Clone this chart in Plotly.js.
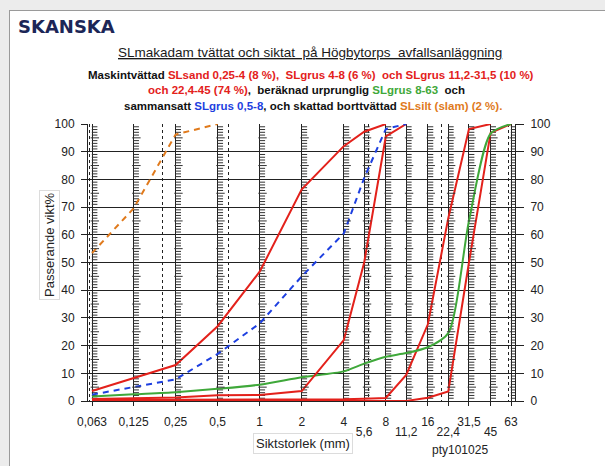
<!DOCTYPE html>
<html>
<head>
<meta charset="utf-8">
<script src="https://cdn.plot.ly/plotly-3.0.1.min.js"></script>
<style>
  html, body { margin:0; padding:0; background:#ececec; width:605px; height:466px; overflow:hidden; }
  #frame { position:absolute; left:9px; top:10px; width:620px; height:480px; background:#fff; border:1px solid #9a9a9a; }
  #chart { position:absolute; left:0; top:0; width:605px; height:466px; }
</style>
</head>
<body>
<div id="frame"></div>
<div id="chart"></div>
<script>
// ---- data ----
const sieveMain = [0.063, 0.125, 0.25, 0.5, 1, 2, 4, 8, 16, 31.5, 63];
const sieveMainText = ['0,063', '0,125', '0,25', '0,5', '1', '2', '4', '8', '16', '31,5', '63'];
const sieveLow = [5.6, 11.2, 22.4, 45];
const sieveLowText = ['5,6', '11,2', '22,4', '45'];
const sieveDotted = [0.06, 0.2, 0.6, 6, 20, 60];
const sizes = [0.063, 0.125, 0.25, 0.5, 1, 2, 4, 5.6, 8, 11.2, 16, 22.4, 31.5, 45, 63];

const slSilt      = [53.4, 69.5, 96.2, 100];                                   // 0.063..0.5
const slGrus0508  = [2.3, 5, 7.8, 17, 28, 45, 60.5, 80.5, 98.2, 100];          // 0.063..11.2
const slSand      = [3.6, 8.3, 13, 27, 46.7, 76.4, 92, 97.2, 100];             // 0.063..8
const slGrus48    = [0.7, 1, 1.3, 2.1, 2.2, 3.6, 22, 50, 95.5, 100];           // 0.063..11.2
const slGrus11    = [0.4, 0.4, 0.4, 0.5, 0.5, 0.5, 0.6, 0.8, 1.1, 9.4, 27.7, 66, 98.2, 100]; // ..45
const slGrus22    = [0, 0, 0, 0, 0, 0, 0, 0, 0, 0, 1.2, 3.4, 50, 96.8, 100];   // ..63
const slGrus863   = [1.6, 2.4, 3.2, 4.4, 5.9, 8.6, 10.7, 13.5, 16, 17.3, 19.4, 24.5, 65, 96.5, 100];

// ---- ruler tick decoration on each solid sieve line ----
const rulerLines = sizes;
const tx1 = [], ty1 = [], tx5 = [], ty5 = [];
const shift = Math.pow(10, 2.6 / 139.7);
rulerLines.forEach(function (s) {
  for (let v = 1; v < 100; v++) {
    if (v % 10 === 0) continue;
    if (v % 5 === 0) { tx5.push(s * shift * 1.004); ty5.push(v); }
    else { tx1.push(s * shift); ty1.push(v); }
  }
});

const RED = '#e3211b', GREEN = '#3fa83a', BLUE = '#1d3fe0', ORANGE = '#e07a1c';
const xs = (n) => sizes.slice(0, n);

const traces = [
  {x: tx1, y: ty1, mode: 'markers', marker: {symbol: 'line-ew', size: 4, line: {width: 1, color: '#333'}}, hoverinfo: 'skip', showlegend: false},
  {x: tx5, y: ty5, mode: 'markers', marker: {symbol: 'line-ew', size: 6, line: {width: 1, color: '#333'}}, hoverinfo: 'skip', showlegend: false, xaxis: 'x2', yaxis: 'y2'},
  {x: [1], y: [50], mode: 'markers', marker: {opacity: 0}, hoverinfo: 'skip', showlegend: false, xaxis: 'x3'},
  {x: xs(slGrus22.length), y: slGrus22, mode: 'lines', line: {color: RED, width: 2}},
  {x: xs(slGrus11.length), y: slGrus11, mode: 'lines', line: {color: RED, width: 2}},
  {x: xs(slGrus863.length), y: slGrus863, mode: 'lines', line: {color: GREEN, width: 2, shape: 'spline', smoothing: 0.7}},
  {x: xs(slGrus48.length), y: slGrus48, mode: 'lines', line: {color: RED, width: 2}},
  {x: xs(slGrus0508.length), y: slGrus0508, mode: 'lines', line: {color: BLUE, width: 2, dash: '6px,5px'}},
  {x: xs(slSand.length), y: slSand, mode: 'lines', line: {color: RED, width: 2}},
  {x: xs(slSilt.length), y: slSilt, mode: 'lines', line: {color: ORANGE, width: 2, dash: '6px,5px'}}
];

const L = 88, R = 515, T = 124, B = 401;
const r0 = Math.log10(0.063) - 4 / 139.7, r1 = Math.log10(63) + 4 / 139.7;
const W = R - L, H = B - T;
const px = (x) => (x - L) / W;
const py = (y) => (B - y) / H;

const FONT = 'Liberation Sans, Arial, sans-serif';
const NARROW = 'Liberation Sans Narrow, Arial Narrow, Liberation Sans, sans-serif';
const tickFont = {family: FONT, size: 12, color: '#222'};

const xBase = {type: 'log', range: [r0, r1], tickmode: 'array', showgrid: true, gridcolor: '#222', gridwidth: 1,
  zeroline: false, ticks: 'outside', ticklen: 4, tickcolor: '#222', tickfont: tickFont, fixedrange: true};

const red = (t) => '<span style="color:' + RED + '">' + t + '</span>';
const grn = (t) => '<span style="color:' + GREEN + '">' + t + '</span>';
const blu = (t) => '<span style="color:' + BLUE + '">' + t + '</span>';
const org = (t) => '<span style="color:' + ORANGE + '">' + t + '</span>';

const layout = {
  width: 605, height: 466,
  margin: {l: L, r: 605 - R, t: T, b: 466 - B},
  paper_bgcolor: 'rgba(0,0,0,0)', plot_bgcolor: 'rgba(0,0,0,0)',
  showlegend: false,
  xaxis: Object.assign({}, xBase, {tickvals: sieveMain, ticktext: sieveMainText, ticklabelstandoff: 6,
    showline: true, linecolor: '#222'}),
  xaxis2: Object.assign({}, xBase, {overlaying: 'x', anchor: 'y', side: 'bottom', tickvals: sieveLow, ticktext: sieveLowText,
    ticklabelstandoff: 16}),
  xaxis3: Object.assign({}, xBase, {overlaying: 'x', anchor: 'y', side: 'bottom', tickvals: sieveDotted, griddash: 'dot',
    showticklabels: false, ticks: ''}),
  yaxis: {range: [0, 100], tickmode: 'linear', tick0: 0, dtick: 10, showgrid: true, gridcolor: '#222', gridwidth: 1,
    zeroline: false, ticks: 'outside', ticklen: 6, tickcolor: '#222', tickfont: tickFont, showline: true, linecolor: '#222',
    ticklabelstandoff: 4, fixedrange: true},
  yaxis2: {range: [0, 100], overlaying: 'y', side: 'right', tickmode: 'linear', tick0: 0, dtick: 10, showgrid: false,
    zeroline: false, ticks: 'outside', ticklen: 8, tickcolor: '#222', tickfont: tickFont, showline: true, linecolor: '#222',
    ticklabelstandoff: 4, fixedrange: true},
  annotations: [
    {text: '<b>SKANSKA</b>', xref: 'paper', yref: 'paper', x: px(16), y: py(26), xanchor: 'left', yanchor: 'middle',
      showarrow: false, font: {family: 'DejaVu Sans, sans-serif', size: 18, color: '#1c2657'}},
    {text: '<u>SLmakadam tvättat och siktat  på Högbytorps  avfallsanläggning</u>', xref: 'paper', yref: 'paper',
      x: px(310), y: py(53), xanchor: 'center', yanchor: 'middle', showarrow: false,
      font: {family: FONT, size: 13.5, color: '#1a1a1a'}},
    {text: '<b>Maskintvättad ' + red('SLsand 0,25-4 (8 %),  SLgrus 4-8 (6 %)  och SLgrus 11,2-31,5 (10 %)') + '</b>',
      xref: 'paper', yref: 'paper', x: px(311), y: py(75), xanchor: 'center', yanchor: 'middle', showarrow: false,
      font: {family: NARROW, size: 11.5, color: '#111'}},
    {text: '<b>' + red('och 22,4-45 (74 %)') + ',  beräknad urprunglig ' + grn('SLgrus 8-63') + '  och</b>',
      xref: 'paper', yref: 'paper', x: px(306), y: py(90), xanchor: 'center', yanchor: 'middle', showarrow: false,
      font: {family: NARROW, size: 11.5, color: '#111'}},
    {text: '<b>sammansatt ' + blu('SLgrus 0,5-8') + ', och skattad borttvättad ' + org('SLsilt (slam) (2 %).') + '</b>',
      xref: 'paper', yref: 'paper', x: px(313), y: py(106), xanchor: 'center', yanchor: 'middle', showarrow: false,
      font: {family: NARROW, size: 11.5, color: '#111'}},
    {text: 'Siktstorlek (mm)', xref: 'paper', yref: 'paper', x: px(303), y: py(443), xanchor: 'center', yanchor: 'middle',
      showarrow: false, font: {family: FONT, size: 13, color: '#222'}, bordercolor: '#dcdcdc', borderwidth: 1, borderpad: 2,
      bgcolor: '#fff'},
    {text: 'pty101025', xref: 'paper', yref: 'paper', x: px(460), y: py(450), xanchor: 'center', yanchor: 'middle',
      showarrow: false, font: {family: FONT, size: 12, color: '#222'}},
    {text: 'Passerande vikt%', xref: 'paper', yref: 'paper', x: px(49), y: py(245), xanchor: 'center', yanchor: 'middle',
      textangle: -90, showarrow: false, font: {family: FONT, size: 13, color: '#222'}, bordercolor: '#dcdcdc',
      borderwidth: 1, borderpad: 2, bgcolor: '#fff'}
  ]
};

Plotly.newPlot('chart', traces, layout, {staticPlot: true, displayModeBar: false});
</script>
</body>
</html>
